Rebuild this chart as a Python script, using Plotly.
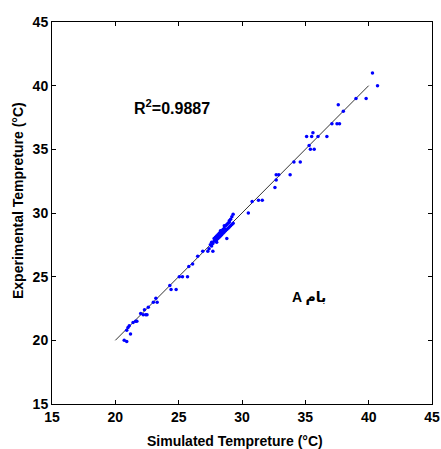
import plotly.graph_objects as go

# Simulated (x) vs experimental (y) temperatures
sim_temp = [
    20.7, 20.9, 20.9, 21.0, 21.1, 21.2, 21.4, 21.6, 21.7, 22.0, 22.2, 22.4, 22.5,
    22.3, 22.6, 23.0, 23.3, 23.2, 24.3, 24.4, 24.8, 25.05, 25.3, 25.7, 25.8, 26.1,
    26.5, 26.9, 27.3, 27.7,
    27.4, 27.5, 27.6, 27.6, 27.7, 27.8, 27.8, 27.9, 27.9, 28.0, 28.0, 28.1, 28.1,
    28.2, 28.2, 28.3, 28.3, 28.4, 28.4, 28.5, 28.5, 28.6, 28.6, 28.7, 28.7, 28.8,
    28.8, 28.9, 28.9, 29.0, 29.0, 29.1, 29.1, 29.2, 29.2, 29.3, 29.3, 28.8, 28.0,
    28.3, 28.6, 29.0,
    30.5, 30.8, 31.3, 31.6, 32.6, 32.7, 32.7, 32.9, 33.8, 34.1, 34.6, 35.1, 35.3,
    35.4, 35.5, 35.6, 35.7, 36.0, 36.7, 37.1, 37.5, 37.7, 37.6, 38.0, 39.0, 39.8,
    40.3, 40.7,
]
exp_temp = [
    20.0, 19.9, 20.8, 21.0, 21.15, 20.5, 21.4, 21.5, 21.5, 22.1, 22.0, 22.0, 22.0,
    22.4, 22.6, 23.0, 23.0, 23.3, 24.3, 24.0, 24.0, 25.0, 25.0, 25.0, 25.8, 26.0,
    26.6, 27.0, 27.0, 27.0,
    27.2, 27.5, 27.4, 27.7, 27.6, 27.8, 28.0, 27.8, 28.1, 27.9, 28.2, 28.0, 28.3,
    28.1, 28.4, 28.2, 28.5, 28.3, 28.6, 28.4, 28.7, 28.5, 28.8, 28.6, 29.0, 28.7,
    29.1, 28.8, 29.2, 28.9, 29.4, 29.0, 29.5, 29.1, 29.7, 29.2, 29.9, 28.0, 27.7,
    28.6, 29.0, 29.3,
    30.0, 30.9, 31.0, 31.0, 32.0, 32.6, 33.0, 33.0, 33.0, 34.0, 34.0, 36.0, 35.3,
    35.0, 36.0, 36.3, 35.0, 36.0, 36.0, 37.0, 37.0, 37.0, 38.5, 38.0, 39.0, 39.0,
    41.0, 40.0,
]
fit_x = [20, 40]
fit_y = [20, 40]
ticks = [15, 20, 25, 30, 35, 40, 45]
tick_labels = ["15", "20", "25", "30", "35", "40", "45"]

font_family = "Liberation Sans, Arial, DejaVu Sans"

fig = go.Figure()
fig.add_trace(go.Scatter(x=fit_x, y=fit_y, mode="lines",
                         line=dict(color="#333333", width=1), showlegend=False))
fig.add_trace(go.Scatter(x=sim_temp, y=exp_temp, mode="markers",
                         marker=dict(color="#0000ff", size=3.5), showlegend=False))

axis_common = dict(
    range=[15, 45], tickvals=ticks, ticktext=["<b>%s</b>" % t for t in tick_labels],
    showgrid=False, zeroline=False, showline=True, linecolor="black", linewidth=1,
    mirror="ticks", ticks="inside", ticklen=4, tickcolor="black",
    tickfont=dict(family=font_family, size=14, color="black"),
)

fig.update_layout(
    width=441, height=449,
    margin=dict(l=52, r=9, t=22, b=45, autoexpand=False),
    paper_bgcolor="white", plot_bgcolor="white",
    xaxis=dict(**axis_common, ticklabeloverflow="allow"),
    yaxis=dict(**axis_common),
    annotations=[
        dict(x=0.4816, y=-0.097, xref="paper", yref="paper", xanchor="center", yanchor="middle",
             text="<b>Simulated Tempreture (°C)</b>", showarrow=False,
             font=dict(family=font_family, size=14, color="black")),
        dict(x=-0.0895, y=0.534, xref="paper", yref="paper", xanchor="center", yanchor="middle",
             text="<b>Experimental Tempreture (°C)</b>", showarrow=False, textangle=-90,
             font=dict(family=font_family, size=14, color="black")),
        dict(x=21.3, y=38.3, xref="x", yref="y", xanchor="left", yanchor="middle",
             text="<b>R<sup>2</sup>=0.9887</b>", showarrow=False,
             font=dict(family=font_family, size=16, color="black")),
        dict(x=35.3, y=23.4, xref="x", yref="y", xanchor="center", yanchor="middle",
             text="<b>A بام</b>", showarrow=False,
             font=dict(family=font_family, size=14, color="black")),
    ],
)

fig.write_html("out.html", config={"displayModeBar": False},
               post_script="document.body.style.margin='0';")
